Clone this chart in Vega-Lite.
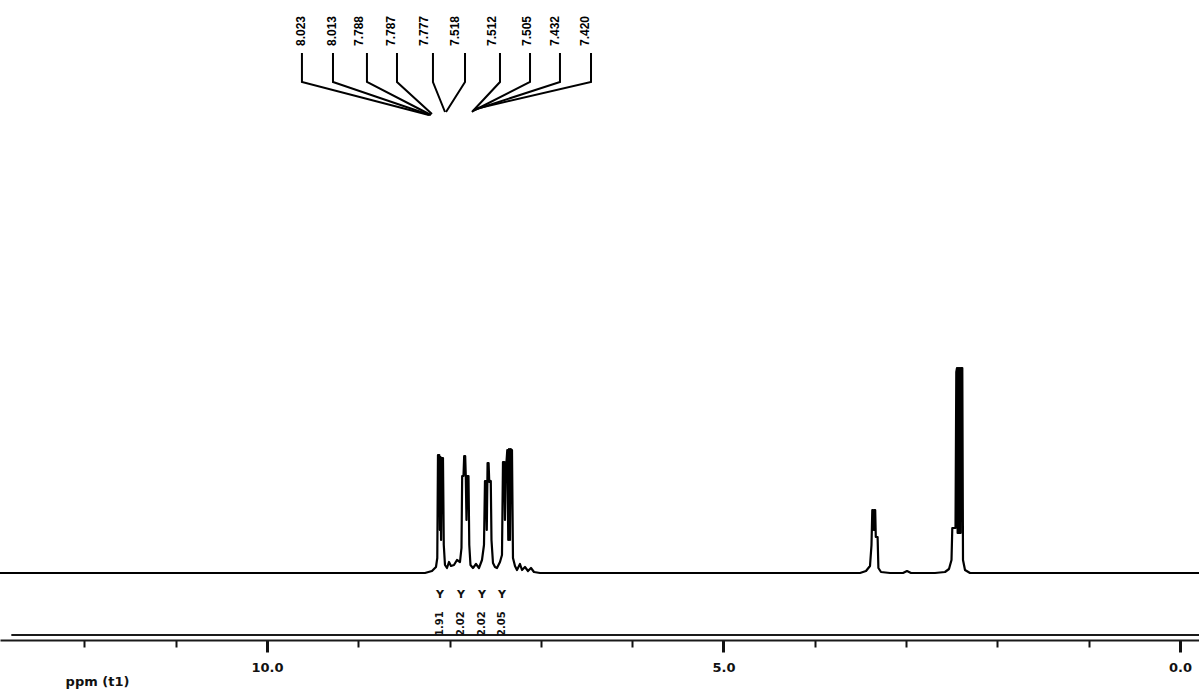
{
  "$schema": "https://vega.github.io/schema/vega-lite/v6.json",
  "width": 1199,
  "height": 640,
  "autosize": {"type": "none"},
  "padding": {"left": 0, "top": 0, "right": 0, "bottom": 49},
  "background": "white",
  "config": {"view": {"stroke": null}},
  "datasets": {
    "spectrum": [
      {"ppm": 12.924, "v": 0}, {"ppm": 8.2694, "v": 0}, {"ppm": 8.1928, "v": 2}, {"ppm": 8.149, "v": 6},
      {"ppm": 8.1347, "v": 15}, {"ppm": 8.1271, "v": 118}, {"ppm": 8.1128, "v": 118}, {"ppm": 8.1062, "v": 43},
      {"ppm": 8.0997, "v": 116}, {"ppm": 8.0931, "v": 33}, {"ppm": 8.0865, "v": 115}, {"ppm": 8.0723, "v": 115},
      {"ppm": 8.0635, "v": 28}, {"ppm": 8.0504, "v": 8}, {"ppm": 8.0285, "v": 5}, {"ppm": 8.0066, "v": 11},
      {"ppm": 7.9847, "v": 7}, {"ppm": 7.9518, "v": 8}, {"ppm": 7.9189, "v": 13}, {"ppm": 7.8861, "v": 11},
      {"ppm": 7.8697, "v": 25}, {"ppm": 7.862, "v": 97}, {"ppm": 7.8477, "v": 97}, {"ppm": 7.8401, "v": 117},
      {"ppm": 7.8291, "v": 117}, {"ppm": 7.8226, "v": 97}, {"ppm": 7.8149, "v": 53}, {"ppm": 7.8072, "v": 97},
      {"ppm": 7.793, "v": 97}, {"ppm": 7.7842, "v": 28}, {"ppm": 7.7711, "v": 8}, {"ppm": 7.7437, "v": 5},
      {"ppm": 7.7108, "v": 9}, {"ppm": 7.678, "v": 5}, {"ppm": 7.6451, "v": 13}, {"ppm": 7.6232, "v": 28},
      {"ppm": 7.6123, "v": 92}, {"ppm": 7.6013, "v": 92}, {"ppm": 7.5926, "v": 43}, {"ppm": 7.5838, "v": 110},
      {"ppm": 7.5728, "v": 110}, {"ppm": 7.5652, "v": 91}, {"ppm": 7.5487, "v": 92}, {"ppm": 7.5411, "v": 33},
      {"ppm": 7.5246, "v": 10}, {"ppm": 7.5027, "v": 6}, {"ppm": 7.4808, "v": 5}, {"ppm": 7.448, "v": 11},
      {"ppm": 7.4261, "v": 18}, {"ppm": 7.4151, "v": 111}, {"ppm": 7.4009, "v": 111}, {"ppm": 7.3932, "v": 53},
      {"ppm": 7.3856, "v": 111}, {"ppm": 7.3768, "v": 111}, {"ppm": 7.368, "v": 123}, {"ppm": 7.3571, "v": 33},
      {"ppm": 7.3494, "v": 124}, {"ppm": 7.3384, "v": 33}, {"ppm": 7.3308, "v": 124}, {"ppm": 7.3165, "v": 123},
      {"ppm": 7.3056, "v": 15}, {"ppm": 7.2837, "v": 7}, {"ppm": 7.2618, "v": 3}, {"ppm": 7.2289, "v": 9},
      {"ppm": 7.207, "v": 3}, {"ppm": 7.1742, "v": 6}, {"ppm": 7.1413, "v": 2}, {"ppm": 7.1084, "v": 5},
      {"ppm": 7.0756, "v": 1}, {"ppm": 7.0099, "v": 0},
      {"ppm": 3.5049, "v": 0}, {"ppm": 3.4392, "v": 2}, {"ppm": 3.3954, "v": 7}, {"ppm": 3.379, "v": 28},
      {"ppm": 3.3702, "v": 63}, {"ppm": 3.3604, "v": 63}, {"ppm": 3.3538, "v": 43}, {"ppm": 3.3472, "v": 63},
      {"ppm": 3.3385, "v": 63}, {"ppm": 3.3319, "v": 36}, {"ppm": 3.3122, "v": 36}, {"ppm": 3.3034, "v": 5},
      {"ppm": 3.2749, "v": 1}, {"ppm": 3.1763, "v": 0}, {"ppm": 3.0339, "v": 0}, {"ppm": 2.9901, "v": 2},
      {"ppm": 2.9463, "v": 0}, {"ppm": 2.6835, "v": 0}, {"ppm": 2.5739, "v": 1}, {"ppm": 2.5301, "v": 4},
      {"ppm": 2.5027, "v": 13}, {"ppm": 2.494, "v": 45}, {"ppm": 2.4589, "v": 45}, {"ppm": 2.4502, "v": 201},
      {"ppm": 2.4425, "v": 205}, {"ppm": 2.4356, "v": 40}, {"ppm": 2.4305, "v": 205}, {"ppm": 2.4250, "v": 40},
      {"ppm": 2.4195, "v": 205}, {"ppm": 2.4140, "v": 40}, {"ppm": 2.4085, "v": 205}, {"ppm": 2.4030, "v": 40},
      {"ppm": 2.3975, "v": 205}, {"ppm": 2.3844, "v": 205}, {"ppm": 2.3768, "v": 13},
      {"ppm": 2.3549, "v": 3}, {"ppm": 2.3001, "v": 0}, {"ppm": -0.2081, "v": 0}
    ],
    "axisline": [
      {"ppm": 12.8, "v": -62}, {"ppm": -0.208, "v": -62}
    ],
    "leaders": [
      {"label": "8.023", "seq": 1, "ppm": 9.617, "v": 520}, {"label": "8.023", "seq": 2, "ppm": 9.617, "v": 491}, {"label": "8.023", "seq": 3, "ppm": 8.226, "v": 458},
      {"label": "8.013", "seq": 1, "ppm": 9.277, "v": 520}, {"label": "8.013", "seq": 2, "ppm": 9.277, "v": 491}, {"label": "8.013", "seq": 3, "ppm": 8.215, "v": 458},
      {"label": "7.788", "seq": 1, "ppm": 8.905, "v": 520}, {"label": "7.788", "seq": 2, "ppm": 8.905, "v": 491}, {"label": "7.788", "seq": 3, "ppm": 8.204, "v": 458},
      {"label": "7.787", "seq": 1, "ppm": 8.576, "v": 520}, {"label": "7.787", "seq": 2, "ppm": 8.576, "v": 491}, {"label": "7.787", "seq": 3, "ppm": 8.193, "v": 459},
      {"label": "7.777", "seq": 1, "ppm": 8.182, "v": 520}, {"label": "7.777", "seq": 2, "ppm": 8.182, "v": 491}, {"label": "7.777", "seq": 3, "ppm": 8.05, "v": 461},
      {"label": "7.518", "seq": 1, "ppm": 7.831, "v": 520}, {"label": "7.518", "seq": 2, "ppm": 7.831, "v": 491}, {"label": "7.518", "seq": 3, "ppm": 8.039, "v": 461},
      {"label": "7.512", "seq": 1, "ppm": 7.448, "v": 520}, {"label": "7.512", "seq": 2, "ppm": 7.448, "v": 491}, {"label": "7.512", "seq": 3, "ppm": 7.755, "v": 461},
      {"label": "7.505", "seq": 1, "ppm": 7.119, "v": 520}, {"label": "7.505", "seq": 2, "ppm": 7.119, "v": 491}, {"label": "7.505", "seq": 3, "ppm": 7.744, "v": 462},
      {"label": "7.432", "seq": 1, "ppm": 6.791, "v": 520}, {"label": "7.432", "seq": 2, "ppm": 6.791, "v": 491}, {"label": "7.432", "seq": 3, "ppm": 7.733, "v": 463},
      {"label": "7.420", "seq": 1, "ppm": 6.451, "v": 520}, {"label": "7.420", "seq": 2, "ppm": 6.451, "v": 491}, {"label": "7.420", "seq": 3, "ppm": 7.722, "v": 464}
    ],
    "peaklabels": [
      {"label": "8.023", "ppm": 9.628, "v": 527},
      {"label": "8.013", "ppm": 9.288, "v": 527},
      {"label": "7.788", "ppm": 8.992, "v": 527},
      {"label": "7.787", "ppm": 8.642, "v": 527},
      {"label": "7.777", "ppm": 8.28, "v": 527},
      {"label": "7.518", "ppm": 7.941, "v": 527},
      {"label": "7.512", "ppm": 7.536, "v": 527},
      {"label": "7.505", "ppm": 7.152, "v": 527},
      {"label": "7.432", "ppm": 6.845, "v": 527},
      {"label": "7.420", "ppm": 6.517, "v": 527}
    ],
    "integrals": [
      {"label": "1.91", "ppm": 8.105, "v": -22, "vt": -63},
      {"label": "2.02", "ppm": 7.875, "v": -22, "vt": -63},
      {"label": "2.02", "ppm": 7.645, "v": -22, "vt": -63},
      {"label": "2.05", "ppm": 7.426, "v": -22, "vt": -63}
    ]
  },
  "encoding": {
    "x": {
      "field": "ppm",
      "type": "quantitative",
      "scale": {"domain": [-0.208, 12.924], "reverse": true, "nice": false, "zero": false},
      "axis": {
        "values": [12, 11, 10, 9, 8, 7, 6, 5, 4, 3, 2, 1, 0],
        "labelExpr": "datum.value % 5 === 0 ? format(datum.value, '.1f') : ''",
        "domainColor": "#1a1a1a",
        "domainWidth": 2,
        "tickColor": "#111111",
        "tickWidth": {"condition": {"test": "datum.value % 5 === 0", "value": 3}, "value": 2},
        "tickSize": {"condition": {"test": "datum.value % 5 === 0", "value": 12}, "value": 7},
        "labelFont": "DejaVu Sans",
        "labelFontSize": 13,
        "labelFontWeight": "bold",
        "labelColor": "#111111",
        "labelPadding": 9,
        "labelFlush": false,
        "labelOverlap": false,
        "labelBound": false,
        "grid": false,
        "title": "ppm (t1)",
        "titleFont": "DejaVu Sans",
        "titleFontSize": 13,
        "titleFontWeight": "bold",
        "titleColor": "#111111",
        "titleX": 97,
        "titleY": 41,
        "titleAlign": "center",
        "titleBaseline": "middle",
        "titleAngle": 0
      }
    },
    "y": {
      "field": "v",
      "type": "quantitative",
      "scale": {"domain": [-67, 573], "nice": false, "zero": false},
      "axis": null
    }
  },
  "layer": [
    {
      "data": {"name": "axisline"},
      "mark": {"type": "line", "color": "#1a1a1a", "strokeWidth": 2},
      "encoding": {}
    },
    {
      "data": {"name": "spectrum"},
      "mark": {"type": "line", "color": "#000000", "strokeWidth": 2.2, "strokeJoin": "round"},
      "encoding": {}
    },
    {
      "data": {"name": "leaders"},
      "mark": {"type": "line", "color": "#000000", "strokeWidth": 2},
      "encoding": {
        "detail": {"field": "label", "type": "nominal"},
        "order": {"field": "seq", "type": "quantitative"}
      }
    },
    {
      "data": {"name": "peaklabels"},
      "mark": {"type": "text", "angle": 270, "align": "left", "baseline": "middle", "font": "Liberation Sans", "fontWeight": "bold", "fontSize": 12, "color": "#000000"},
      "encoding": {"text": {"field": "label", "type": "nominal"}}
    },
    {
      "data": {"name": "integrals"},
      "mark": {"type": "text", "align": "center", "baseline": "middle", "font": "DejaVu Sans", "fontWeight": "bold", "fontSize": 11, "color": "#111111", "text": "Y"},
      "encoding": {}
    },
    {
      "data": {"name": "integrals"},
      "mark": {"type": "text", "angle": 270, "align": "left", "baseline": "middle", "font": "DejaVu Sans", "fontWeight": "bold", "fontSize": 10, "color": "#111111"},
      "encoding": {
        "y": {"field": "vt", "type": "quantitative"},
        "text": {"field": "label", "type": "nominal"}
      }
    }
  ]
}
